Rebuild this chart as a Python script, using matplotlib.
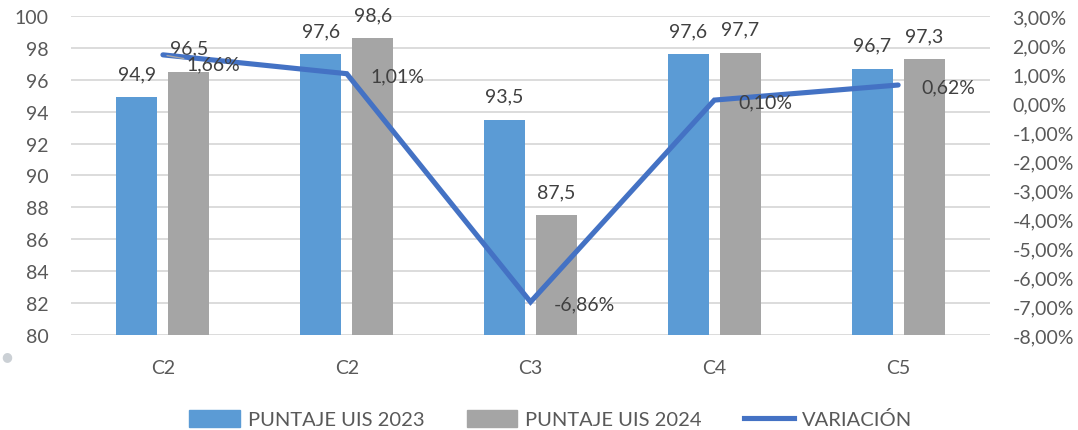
import matplotlib.pyplot as plt
from matplotlib.ticker import FuncFormatter
from matplotlib.lines import Line2D
from matplotlib.patches import Patch

plt.rcParams["font.family"] = ["Lato", "DejaVu Sans"]

# Data
categories = ["C2", "C2", "C3", "C4", "C5"]
puntaje_2023 = [94.9, 97.6, 93.5, 97.6, 96.7]
puntaje_2024 = [96.5, 98.6, 87.5, 97.7, 97.3]
variacion = [1.66, 1.01, -6.86, 0.10, 0.62]

blue = "#5B9BD5"
gray = "#A5A5A5"
line_blue = "#4472C4"
label_col = "#404040"
tick_col = "#595959"


def comma(v, dec):
    return f"{v:.{dec}f}".replace(".", ",")


fig = plt.figure(figsize=(10.78, 4.31), dpi=100)
ax = fig.add_axes([0.0659, 0.2204, 0.8525, 0.7402])

x = list(range(len(categories)))
w = 0.223
off = 0.1415
x1 = [i - off for i in x]
x2 = [i + off for i in x]
ax.bar(x1, puntaje_2023, width=w, color=blue, zorder=2)
ax.bar(x2, puntaje_2024, width=w, color=gray, zorder=2)

for xi, v in zip(x1, puntaje_2023):
    ax.annotate(comma(v, 1), (xi, v), xytext=(0, 17), textcoords="offset points",
                ha="center", va="center", fontsize=14, color=label_col)
for xi, v in zip(x2, puntaje_2024):
    ax.annotate(comma(v, 1), (xi, v), xytext=(0, 17), textcoords="offset points",
                ha="center", va="center", fontsize=14, color=label_col)

ax.set_ylim(80, 100)
ax.set_yticks(range(80, 101, 2))
ax.set_xlim(-0.5, len(categories) - 0.5)
ax.set_xticks(x)
ax.set_xticklabels(categories)
ax.grid(axis="y", color="#D9D9D9", linewidth=1.3, zorder=0)
ax.set_axisbelow(True)
for s in ax.spines.values():
    s.set_visible(False)
ax.tick_params(length=0, labelsize=14, colors=tick_col, pad=16)
ax.tick_params(axis="x", pad=17)

ax2 = ax.twinx()
ax2.plot(x, variacion, color=line_blue, linewidth=3.7,
         solid_capstyle="round", solid_joinstyle="miter", zorder=3)
ax2.set_ylim(-8, 3)
ax2.set_yticks(range(-8, 4))
ax2.yaxis.set_major_formatter(FuncFormatter(lambda v, p: comma(v, 2) + "%"))
for s in ax2.spines.values():
    s.set_visible(False)
ax2.tick_params(length=0, labelsize=14, colors=tick_col, pad=16)

for i, (xi, v) in enumerate(zip(x, variacion)):
    dy = -6.5 if i == 0 else -1.5
    props = None
    if i == 0:
        props = dict(arrowstyle="-", color="#A6A6A6", lw=1.0,
                     shrinkA=0, shrinkB=3)
    ax2.annotate(comma(v, 2) + "%", (xi, v), xytext=(17, dy),
                 textcoords="offset points", ha="left", va="center",
                 fontsize=14, color=label_col, arrowprops=props, zorder=4)

# small leftover marker in the lower-left corner
fig.text(0.0065, 0.172, "\u25cf", fontsize=9, color="#CBD0D5",
         family=["DejaVu Sans"], ha="center", va="center")

handles = [
    Patch(color=blue, label="PUNTAJE UIS 2023"),
    Patch(color=gray, label="PUNTAJE UIS 2024"),
    Line2D([0], [0], color=line_blue, linewidth=3.7, label="VARIACIÓN"),
]
fig.legend(handles=handles, loc="center", bbox_to_anchor=(0.511, 0.025),
           ncol=3, frameon=False, fontsize=14.5, handlelength=2.5,
           handleheight=0.9, columnspacing=2.1, handletextpad=0.4,
           labelcolor=tick_col)

fig.savefig("out.png", dpi=100)
